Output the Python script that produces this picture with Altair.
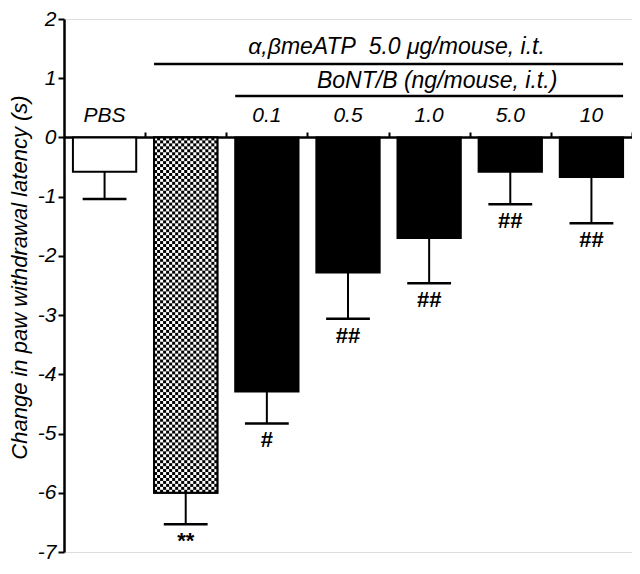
import altair as alt
import pandas as pd
import numpy as np

# ---- data ----
groups = ["PBS", "meATP", "0.1", "0.5", "1.0", "5.0", "10"]
top_labels = ["PBS", "", "0.1", "0.5", "1.0", "5.0", "10"]
means = [-0.58, -6.00, -4.29, -2.28, -1.70, -0.58, -0.67]
lower = [-1.04, -6.53, -4.83, -3.06, -2.46, -1.13, -1.45]
signif = ["", "**", "#", "##", "##", "##", "##"]
bar_fill = ["white", "black", "black", "black", "black", "black", "black"]
checker_group = 1
y_ticks = [-7, -6, -5, -4, -3, -2, -1, 0, 1, 2]
header1 = "\u03b1,\u03b2meATP\u00a0\u00a05.0 \u03bcg/mouse, i.t."
header2 = "BoNT/B (ng/mouse, i.t.)"
y_title = "Change in paw withdrawal latency (s)"

FONT = "Liberation Sans"
half = 0.39
cap = 0.27

pos = np.arange(len(groups)) + 0.5
df = pd.DataFrame({
    "group": groups, "label": top_labels, "mean": means, "lower": lower,
    "sig": signif, "fill": bar_fill, "pos": pos,
})
df["left"] = df["pos"] - half
df["right"] = df["pos"] + half
df["capl"] = df["pos"] - cap
df["capr"] = df["pos"] + cap
df["zero"] = 0.0
df["labely"] = 0.37

# checker texture for the α,βmeATP-alone bar
b = df.iloc[checker_group]
ncols = 21
nrows = int(round(-b["mean"] / 0.05))
cw = (b["right"] - b["left"]) / ncols
ch = -b["mean"] / nrows
cells = []
for i in range(ncols):
    for j in range(nrows):
        if (i + j) % 2 == 0:
            cells.append({"x": b["left"] + i * cw, "x2": b["left"] + (i + 1) * cw,
                          "y": -j * ch, "y2": -(j + 1) * ch})
cells = pd.DataFrame(cells)
outline = df.iloc[[checker_group]]

# header lines spanning the treated groups
h1_from, h2_from, h_to = 1, 2, len(groups) - 1
heads = pd.DataFrame({
    "x": [df["left"][h1_from], df["left"][h2_from]],
    "x2": [df["right"][h_to], df["right"][h_to]],
    "y": [1.24, 0.70],
    "ty": [1.52, 0.95],
    "text": [header1, header2],
})
heads["xm"] = (heads["x"] + heads["x2"]) / 2

W = 568
H = 533
xscale = alt.Scale(domain=[0, len(groups)], nice=False, zero=False)
yscale = alt.Scale(domain=[-7, 2], nice=False, zero=False)
xaxis = alt.Axis(orient="top", offset=-round(H * 2 / 9), values=list(range(1, len(groups) + 1)),
                 labels=False, title=None, tickSize=5, tickWidth=2, domainWidth=2.5,
                 domainColor="black", tickColor="black", grid=False)
yaxis = alt.Axis(values=y_ticks, title=y_title, tickSize=6, tickWidth=2, domainWidth=2.5,
                 domainColor="black", tickColor="black", grid=False,
                 labelExpr="toString(datum.value)",
                 labelFont=FONT, labelFontStyle="italic", labelFontSize=21,
                 labelColor="black", labelPadding=2,
                 titleFont=FONT, titleFontStyle="italic", titleFontWeight="normal",
                 titleFontSize=22, titleColor="black", titleX=-45, titleY=258,
                 titleAngle=270, titleAlign="center", titleBaseline="middle")

X = lambda f: alt.X(f"{f}:Q", scale=xscale, axis=xaxis)
Y = lambda f: alt.Y(f"{f}:Q", scale=yscale, axis=yaxis)

bars = alt.Chart(df).mark_rect(stroke="black", strokeWidth=2).encode(
    x=X("left"), x2="right", y=Y("mean"), y2="zero",
    fill=alt.Fill("fill:N", scale=None))

checker = alt.Chart(cells).mark_rect(fill="white", strokeWidth=0).encode(
    x=X("x"), x2="x2", y=Y("y"), y2="y2")

outl = alt.Chart(outline).mark_rect(fill=None, fillOpacity=0, stroke="black", strokeWidth=2).encode(
    x=X("left"), x2="right", y=Y("mean"), y2="zero")

stems = alt.Chart(df).mark_rule(color="black", strokeWidth=2).encode(
    x=X("pos"), y=Y("mean"), y2="lower")

caps = alt.Chart(df).mark_rule(color="black", strokeWidth=2.5).encode(
    x=X("capl"), x2="capr", y=Y("lower"))

labels = alt.Chart(df).mark_text(font=FONT, fontStyle="italic", fontSize=21,
                                 baseline="middle", align="center", color="black").encode(
    x=X("pos"), y=Y("labely"), text="label:N")

sigs = alt.Chart(df).mark_text(font=FONT, fontWeight="bold", fontSize=22, dy=17,
                               baseline="middle", align="center", color="black").encode(
    x=X("pos"), y=Y("lower"), text="sig:N")

hlines = alt.Chart(heads).mark_rule(color="black", strokeWidth=2.5).encode(
    x=X("x"), x2="x2", y=Y("y"))

htexts = alt.Chart(heads).mark_text(font=FONT, fontStyle="italic", fontSize=23, dx=8,
                                    baseline="middle", align="center", color="black").encode(
    x=X("xm"), y=Y("ty"), text="text:N")

chart = alt.layer(bars, checker, outl, stems, caps, labels, sigs, hlines, htexts).properties(
    width=W, height=H,
    autosize=alt.AutoSizeParams(type="none"),
    padding={"left": 56, "top": 11, "right": 0, "bottom": 12},
).configure_view(stroke=None).configure(background="white")

chart.save("out.html", embed_options={"renderer": "svg", "actions": False})
